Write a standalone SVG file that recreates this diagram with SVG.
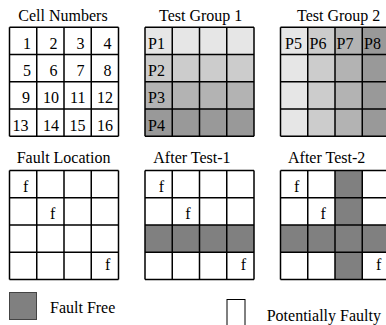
<svg xmlns="http://www.w3.org/2000/svg" width="386" height="325" viewBox="0 0 386 325">
<style>
text{font-family:"Liberation Serif","Times New Roman",serif;font-size:16px;fill:#000}
.num{text-anchor:end}
.grid{fill:none;stroke:#000;stroke-width:1.5}
.ff{fill:#808080}
.s1{fill:#e6e6e6}.s2{fill:#cccccc}.s3{fill:#b3b3b3}.s4{fill:#999999}
</style>
<rect width="386" height="325" fill="#fff"/>
<g id="cell-numbers">
<text x="18.3" y="20.5">Cell Numbers</text>
<path class="grid" d="M9.5 27.3H118.5M9.5 54.55H118.5M9.5 81.8H118.5M9.5 109.05H118.5M9.5 136.3H118.5M9.5 27.3V136.3M36.75 27.3V136.3M64 27.3V136.3M91.25 27.3V136.3M118.5 27.3V136.3"/>
<text class="num" x="31" y="48.8">1</text><text class="num" x="57.5" y="48.8">2</text><text class="num" x="84.5" y="48.8">3</text><text class="num" x="111.5" y="48.8">4</text>
<text class="num" x="31" y="76">5</text><text class="num" x="57.5" y="76">6</text><text class="num" x="84.5" y="76">7</text><text class="num" x="111.5" y="76">8</text>
<text class="num" x="30" y="103.3">9</text><text class="num" x="59" y="103.3">10</text><text class="num" x="85.5" y="103.3">11</text><text class="num" x="113" y="103.3">12</text>
<text class="num" x="28.5" y="130.5">13</text><text class="num" x="59" y="130.5">14</text><text class="num" x="85.5" y="130.5">15</text><text class="num" x="113" y="130.5">16</text>
</g>
<g id="test-group-1">
<text x="159" y="20.5">Test Group 1</text>
<rect class="s1" x="145" y="27.3" width="109" height="27.25"/>
<rect class="s2" x="145" y="54.55" width="109" height="27.25"/>
<rect class="s3" x="145" y="81.8" width="109" height="27.25"/>
<rect class="s4" x="145" y="109.05" width="109" height="27.25"/>
<path class="grid" d="M145 27.3H254M145 54.55H254M145 81.8H254M145 109.05H254M145 136.3H254M145 27.3V136.3M172.25 27.3V136.3M199.5 27.3V136.3M226.75 27.3V136.3M254 27.3V136.3"/>
<text x="148" y="48.8">P1</text><text x="148" y="76">P2</text><text x="148" y="103.3">P3</text><text x="148" y="130.5">P4</text>
</g>
<g id="test-group-2">
<text x="297" y="20.5">Test Group 2</text>
<rect class="s1" x="280.5" y="27.3" width="27.25" height="109"/>
<rect class="s2" x="307.75" y="27.3" width="27.25" height="109"/>
<rect class="s3" x="335" y="27.3" width="27.25" height="109"/>
<rect class="s4" x="362.25" y="27.3" width="27.25" height="109"/>
<path class="grid" d="M280.5 27.3H389.5M280.5 54.55H389.5M280.5 81.8H389.5M280.5 109.05H389.5M280.5 136.3H389.5M280.5 27.3V136.3M307.75 27.3V136.3M335 27.3V136.3M362.25 27.3V136.3M389.5 27.3V136.3"/>
<text x="285" y="48.8">P5</text><text x="309.5" y="48.8">P6</text><text x="336.5" y="48.8">P7</text><text x="364" y="48.8">P8</text>
</g>
<g id="fault-location">
<text x="16.7" y="163">Fault Location</text>
<path class="grid" d="M9.5 170.5H118.5M9.5 197.75H118.5M9.5 225H118.5M9.5 252.25H118.5M9.5 279.5H118.5M9.5 170.5V279.5M36.75 170.5V279.5M64 170.5V279.5M91.25 170.5V279.5M118.5 170.5V279.5"/>
<text x="23" y="192">f</text><text x="50" y="219">f</text><text x="105" y="269.5">f</text>
</g>
<g id="after-test-1">
<text x="153.3" y="163">After Test-1</text>
<rect class="ff" x="145" y="225" width="109" height="27.25"/>
<path class="grid" d="M145 170.5H254M145 197.75H254M145 225H254M145 252.25H254M145 279.5H254M145 170.5V279.5M172.25 170.5V279.5M199.5 170.5V279.5M226.75 170.5V279.5M254 170.5V279.5"/>
<text x="158.7" y="192">f</text><text x="185.3" y="219">f</text><text x="240.7" y="269.5">f</text>
</g>
<g id="after-test-2">
<text x="288" y="163">After Test-2</text>
<rect class="ff" x="280.5" y="225" width="109" height="27.25"/>
<rect class="ff" x="335" y="170.5" width="27.25" height="109"/>
<path class="grid" d="M280.5 170.5H389.5M280.5 197.75H389.5M280.5 225H389.5M280.5 252.25H389.5M280.5 279.5H389.5M280.5 170.5V279.5M307.75 170.5V279.5M335 170.5V279.5M362.25 170.5V279.5M389.5 170.5V279.5"/>
<text x="294" y="192">f</text><text x="320.5" y="219">f</text><text x="376" y="269.5">f</text>
</g>
<g id="legend-fault-free">
<rect class="ff" x="9.5" y="292.5" width="27" height="27" stroke="#444" stroke-width="1"/>
<text x="50" y="313">Fault Free</text>
</g>
<g id="legend-potentially-faulty">
<rect x="227" y="299.5" width="18" height="27" fill="#fff" stroke="#000" stroke-width="1"/>
<text x="266.7" y="320.5">Potentially Faulty</text>
</g>
<g id="connectors"/>
</svg>
